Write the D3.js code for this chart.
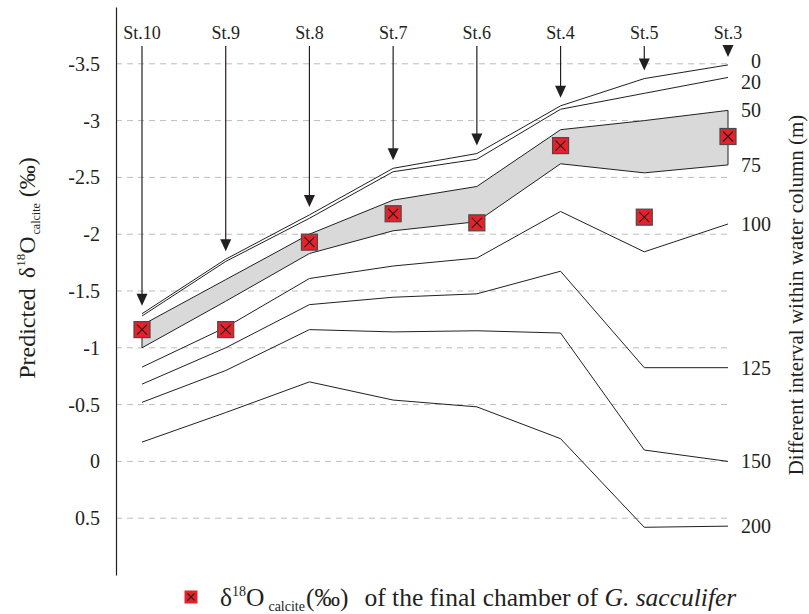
<!DOCTYPE html>
<html><head><meta charset="utf-8">
<script src="https://cdn.jsdelivr.net/npm/d3@7"></script>
<style>
body{margin:0;background:#fff}
svg{display:block}
text{font-family:"Liberation Serif","Times New Roman",serif;fill:#231f20}
</style>
</head><body>
<svg id="c" width="809" height="614"></svg>
<script>
// ---- data ----
const stations = ["St.10","St.9","St.8","St.7","St.6","St.4","St.5","St.3"];
const depthLabels = ["0","20","50","75","100","125","150","200"];
const d0   = [-1.30, -1.78, -2.17, -2.58, -2.71, -3.13, -3.37, -3.49];
const d20  = [-1.28, -1.76, -2.14, -2.55, -2.66, -3.10, -3.24, -3.38];
const d50  = [-1.20, -1.60, -2.00, -2.30, -2.42, -2.92, -3.00, -3.09];
const d75  = [-1.00, -1.41, -1.83, -2.03, -2.11, -2.62, -2.54, -2.61];
const d100 = [-0.83, -1.18, -1.61, -1.72, -1.79, -2.20, -1.845, -2.09];
const d125 = [-0.68, -1.00, -1.38, -1.445, -1.475, -1.674, -0.825, -0.825];
const d150 = [-0.52, -0.80, -1.16, -1.14, -1.15, -1.13, -0.10, 0.00];
const d200 = [-0.17, -0.43, -0.70, -0.54, -0.48, -0.20, 0.58, 0.57];
const measured = [-1.16, -1.16, -1.93, -2.18, -2.10, -2.78, -2.15, -2.86];
const yTicks = [-3.5, -3, -2.5, -2, -1.5, -1, -0.5, 0, 0.5];
const yTickLabels = ["-3.5","-3","-2.5","-2","-1.5","-1","-0.5","0","0.5"];

const series = [d0, d20, d50, d75, d100, d125, d150, d200];

// ---- scales ----
const svg = d3.select("#c");
const x = d3.scalePoint().domain(stations).range([142, 728]);
const y = d3.scaleLinear().domain([-4, 1]).range([7, 575]);
const axisX = 116;

// grid
svg.append("g").selectAll("line").data(yTicks).join("line")
  .attr("x1", axisX).attr("x2", x(stations[stations.length-1]))
  .attr("y1", d => y(d)).attr("y2", d => y(d))
  .attr("stroke", "#bdbdbd").attr("stroke-width", 1).attr("stroke-dasharray", "6,5");

// y axis
const yAxis = d3.axisLeft(y).tickValues(yTicks)
  .tickFormat((d, i) => yTickLabels[i]).tickSize(0).tickSizeOuter(0).tickPadding(16);
const gA = svg.append("g").attr("transform", `translate(${axisX},0)`).call(yAxis);
gA.select(".domain").attr("stroke", "#231f20").attr("stroke-width", 1.2);
gA.selectAll(".tick text").attr("font-size", 20)
  .attr("font-family", '"Liberation Serif","Times New Roman",serif').attr("fill", "#231f20");

// band 50-75 m
const pts = stations.map((s, i) => [x(s), y(d50[i])])
  .concat(stations.map((s, i) => [x(s), y(d75[i])]).reverse());
svg.append("path").attr("d", "M" + pts.map(p => p.join(",")).join("L") + "Z")
  .attr("fill", "#d9d9d9").attr("stroke", "#231f20").attr("stroke-width", 1);

// other depth lines
const line = d3.line().x((d, i) => x(stations[i])).y(d => y(d));
[d0, d20, d100, d125, d150, d200].forEach(s => {
  svg.append("path").attr("d", line(s)).attr("fill", "none")
    .attr("stroke", "#231f20").attr("stroke-width", 1);
});

// depth labels at right (simple de-overlap)
const xe = x(stations[stations.length-1]);
const ly = series.map(s => y(s[s.length-1]));
for (let i = 1; i < ly.length; i++) {
  const gap = 21;
  if (ly[i] - ly[i-1] < gap) {
    const push = (gap - (ly[i] - ly[i-1])) / 2;
    ly[i-1] -= push; ly[i] += push;
  }
}
series.forEach((s, i) => {
  const lbl = depthLabels[i];
  const t = svg.append("text").attr("y", ly[i]).attr("dy", "0.35em")
    .attr("font-size", 20).text(lbl);
  if (lbl.length <= 2) t.attr("x", xe + 33).attr("text-anchor", "end");
  else t.attr("x", xe + 13).attr("text-anchor", "start");
});

// station labels and arrows
stations.forEach((s, i) => {
  const cx = x(s);
  svg.append("text").attr("x", cx).attr("y", 39).attr("text-anchor", "middle")
    .attr("font-size", 18).text(s);
  const tip = y(d0[i]) - 8;
  svg.append("line").attr("x1", cx).attr("x2", cx).attr("y1", 46).attr("y2", tip - 8)
    .attr("stroke", "#231f20").attr("stroke-width", 1.2);
  svg.append("path").attr("d", `M${cx},${tip}L${cx-5.5},${tip-12}L${cx+5.5},${tip-12}Z`)
    .attr("fill", "#231f20");
});

// markers
function marker(g, cx, cy, size, border) {
  const h = size / 2;
  g.append("rect").attr("x", cx - h).attr("y", cy - h).attr("width", size).attr("height", size)
    .attr("fill", "#e8202a").attr("stroke", border ? "#4a4a4a" : "none").attr("stroke-width", 1.2);
  const k = h - 3;
  g.append("path").attr("d", `M${cx-k},${cy-k}L${cx+k},${cy+k}M${cx+k},${cy-k}L${cx-k},${cy+k}`)
    .attr("stroke", "#231f20").attr("stroke-width", 1.1);
}
const gm = svg.append("g");
measured.forEach((v, i) => marker(gm, x(stations[i]), y(v), 16, true));

// left axis title
const lt = svg.append("text").attr("transform", "translate(35,268) rotate(-90)")
  .attr("text-anchor", "middle").attr("font-size", 24);
lt.append("tspan").text("Predicted");
lt.append("tspan").attr("dx", 10).text("δ");
lt.append("tspan").attr("font-size", 13).attr("dy", -10).text("18");
lt.append("tspan").attr("dy", 10).text("O");
lt.append("tspan").attr("font-size", 12).attr("dy", 5).attr("dx", 2).text("calcite");
lt.append("tspan").attr("dy", -5).attr("dx", 6).text("(‰)");

// right axis title
svg.append("text").attr("transform", "translate(803,295) rotate(-90)")
  .attr("text-anchor", "middle").attr("font-size", 21)
  .text("Different interval within water column (m)");

// legend
const gl = svg.append("g");
marker(gl, 191, 597, 13, false);
const tl = gl.append("text").attr("x", 220).attr("y", 606).attr("font-size", 25.5)
  .style("white-space", "pre");
tl.append("tspan").text("δ");
tl.append("tspan").attr("font-size", 14).attr("dy", -10).text("18");
tl.append("tspan").attr("dy", 10).text("O");
tl.append("tspan").attr("font-size", 14).attr("dy", 5).attr("dx", 4).text("calcite");
tl.append("tspan").attr("dy", -5).attr("dx", 1).text("(‰)");
tl.append("tspan").attr("dx", 16).text("of the final chamber of ");
tl.append("tspan").attr("font-style", "italic").text("G. sacculifer");
</script>
</body></html>
